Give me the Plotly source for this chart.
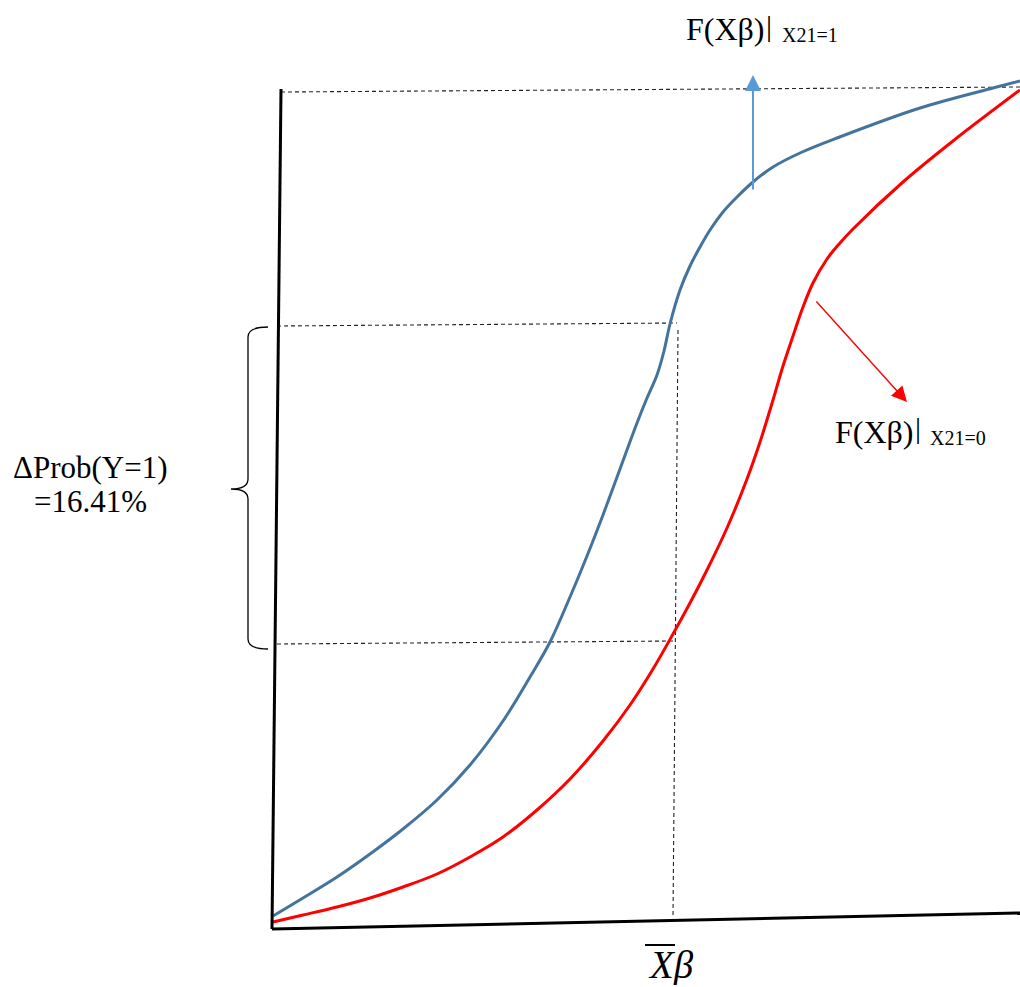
import plotly.graph_objects as go

# ---- data (diagram drawn in page-pixel units, y grows downward) ----
blue_x = [273, 303, 337, 370, 403, 437, 470, 503, 530, 550, 570, 587, 603, 620, 637, 647, 657, 664, 670, 680, 690, 700, 710, 723, 737, 753, 773, 800, 837, 920, 993, 1020]
blue_y = [916, 898, 877, 854, 829, 800, 765, 721, 677, 642, 597, 556, 515, 469, 423, 398, 375, 351, 324, 290, 266, 247, 230, 212, 197, 182, 167, 153, 138, 108, 88, 81]

red_x = [273, 303, 337, 370, 403, 437, 470, 503, 537, 570, 603, 630, 653, 673, 690, 707, 727, 747, 760, 773, 783, 793, 803, 813, 827, 840, 853, 903, 953, 1020]
red_y = [922, 915, 907, 898, 887, 874, 857, 837, 810, 779, 741, 705, 669, 634, 603, 570, 528, 479, 442, 400, 366, 336, 307, 283, 259, 243, 229, 182, 141, 90]

yaxis_line_x = [272, 281]
yaxis_line_y = [929, 89]
xaxis_line_x = [272, 1020]
xaxis_line_y = [929, 913]

top_dash_x = [281, 1020]
top_dash_y = [92, 87]
upper_dash_x = [277, 677]
upper_dash_y = [326, 323]
lower_dash_x = [277, 675]
lower_dash_y = [644, 641]
vert_dash_x = [678, 673]
vert_dash_y = [330, 918]

blue_arrow = dict(x0=753, y0=191, x1=753, y1=75)
red_arrow = dict(x0=815, y0=300, x1=907, y1=402)

brace_x, brace_tip_x, brace_end_x = 248, 231, 268
brace_top, brace_mid, brace_bottom = 327, 489, 649

label_top = ("F(Xβ)", "|", "X21=1")
label_right = ("F(Xβ)", "|", "X21=0")
label_left = ("ΔProb(Y=1)", "=16.41%")
label_bottom = "Xβ"

BLUE = "#44739E"
RED = "#FF0000"
FONT = "Liberation Serif"

fig = go.Figure()

def line(x, y, color, width, dash=None, shape="linear", smoothing=1):
    fig.add_trace(go.Scatter(x=x, y=y, mode="lines", hoverinfo="skip",
                             line=dict(color=color, width=width, dash=dash, shape=shape,
                                       smoothing=smoothing)))

# dashed guides
dash = "4px,3px"
line(top_dash_x, top_dash_y, "#222", 1.1, dash)
line(upper_dash_x, upper_dash_y, "#222", 1.1, dash)
line(lower_dash_x, lower_dash_y, "#222", 1.1, dash)
line(vert_dash_x, vert_dash_y, "#222", 1.1, dash)

# curves
line(blue_x, blue_y, BLUE, 3, shape="spline", smoothing=1)
line(red_x, red_y, RED, 3, shape="spline", smoothing=1)

# axes
line(yaxis_line_x, yaxis_line_y, "black", 3)
line(xaxis_line_x, xaxis_line_y, "black", 3)

# brace
bx, tx, ex = brace_x, brace_tip_x, brace_end_x
t, m, b = brace_top, brace_mid, brace_bottom
path = (f"M{ex},{t} Q{bx},{t} {bx},{t+10} L{bx},{m-10} Q{bx},{m} {tx},{m} "
        f"Q{bx},{m} {bx},{m+10} L{bx},{b-10} Q{bx},{b} {ex},{b}")
fig.add_shape(type="path", path=path, xref="x", yref="y",
              line=dict(color="black", width=1.3))

# arrows
fig.add_annotation(x=blue_arrow["x1"], y=blue_arrow["y1"], ax=blue_arrow["x0"], ay=blue_arrow["y0"],
                   xref="x", yref="y", axref="x", ayref="y", text="", showarrow=True,
                   arrowhead=2, arrowsize=1.6, arrowwidth=2, arrowcolor="#5B9BD5")
fig.add_annotation(x=red_arrow["x1"], y=red_arrow["y1"], ax=red_arrow["x0"], ay=red_arrow["y0"],
                   xref="x", yref="y", axref="x", ayref="y", text="", showarrow=True,
                   arrowhead=2, arrowsize=2.2, arrowwidth=1.4, arrowcolor=RED)

def text(s, x, y, size, xanchor="left", italic=False, height=None):
    fig.add_annotation(x=x, y=y, xref="x", yref="y", text=(f"<i>{s}</i>" if italic else s),
                       showarrow=False, xanchor=xanchor, yanchor="middle", height=height,
                       font=dict(family=FONT, size=size, color="black"))

# top label
text(label_top[0], 684, 29, 32)
text(label_top[1], 769, 25, 30, xanchor="center")
text(label_top[2], 780, 35, 20)
# right label
text(label_right[0], 833, 432, 32)
text(label_right[1], 918, 427, 30, xanchor="center")
text(label_right[2], 928, 438, 20)
# left label
text(label_left[0], 90, 467, 31, xanchor="center")
text(label_left[1], 90, 501, 31, xanchor="center")
# bottom label
text(label_bottom, 671, 965, 39, xanchor="center", italic=True, height=40)
fig.add_shape(type="line", x0=645, x1=675, y0=945, y1=945, xref="x", yref="y",
              line=dict(color="black", width=2))

fig.update_layout(
    width=1020, height=987, margin=dict(l=0, r=0, t=0, b=0),
    plot_bgcolor="white", paper_bgcolor="white", showlegend=False,
    xaxis=dict(range=[0, 1020], visible=False, fixedrange=True),
    yaxis=dict(range=[987, 0], visible=False, fixedrange=True),
)

fig.write_html("out.html", config={"displayModeBar": False},
               post_script="document.body.style.margin='0';")
